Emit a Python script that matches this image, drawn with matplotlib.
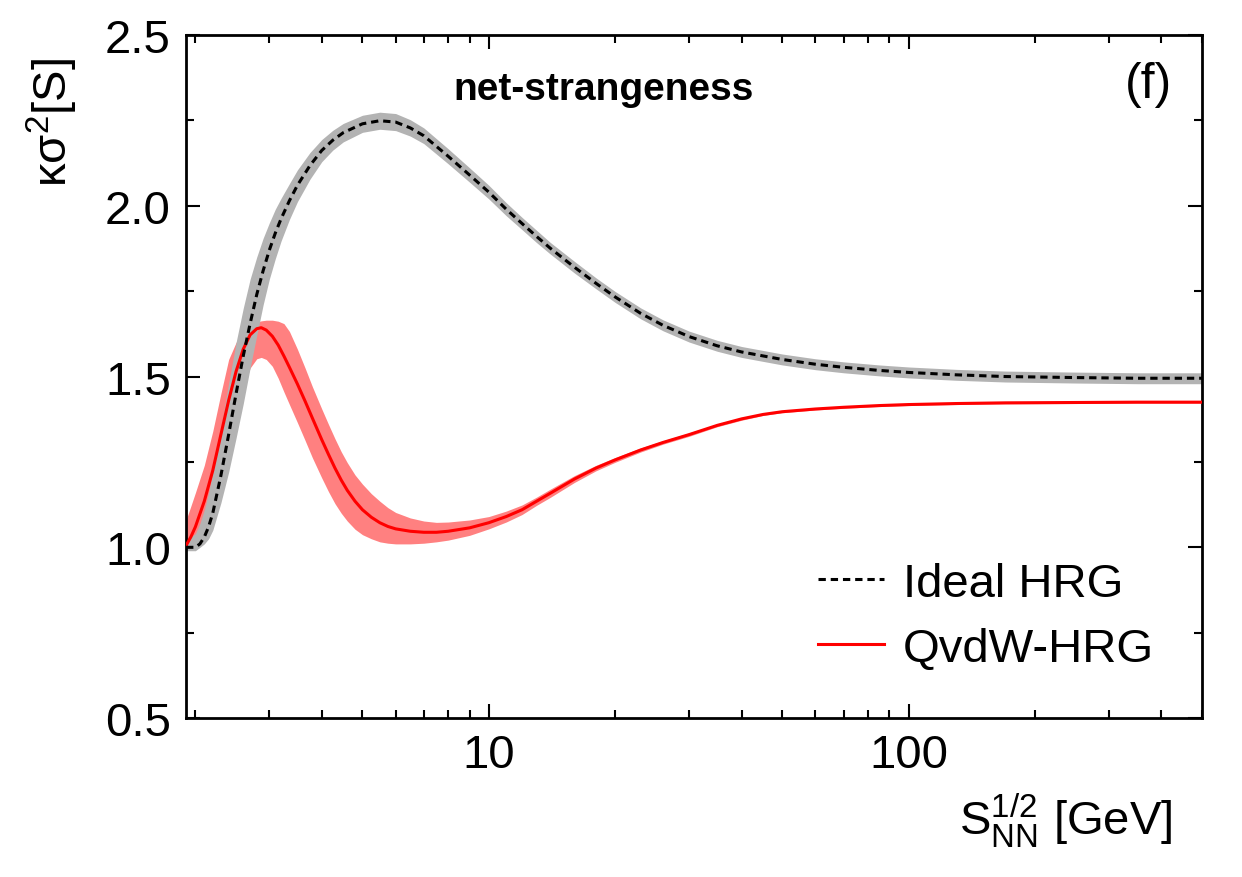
import matplotlib
matplotlib.use("Agg")
import matplotlib.pyplot as plt
import numpy as np
from matplotlib.ticker import MultipleLocator, LogLocator, FixedLocator, NullFormatter, FuncFormatter

plt.rcParams['font.family'] = ['Liberation Sans', 'DejaVu Sans']
plt.rcParams['mathtext.fontset'] = 'custom'
plt.rcParams['mathtext.rm'] = 'Liberation Sans'
plt.rcParams['mathtext.it'] = 'Liberation Sans'
plt.rcParams['mathtext.default'] = 'regular'

# ---------------- data ----------------
# Ideal HRG (black dashed) centre line
ideal_x = [1.9, 2.0, 2.05, 2.1, 2.15, 2.2, 2.3, 2.4, 2.5, 2.6, 2.7, 2.8, 2.9, 3.0, 3.1, 3.2,
           3.35, 3.5, 3.75, 4.0, 4.25, 4.5, 5.0, 5.5, 6.0, 6.5, 7.0, 8.0, 9.0, 10, 11, 12,
           13, 14, 16, 18, 20, 23, 26, 30, 35, 40, 50, 60, 70, 85, 100, 130, 170, 250,
           350, 500]
ideal_y = [1.0, 1.0, 1.01, 1.03, 1.06, 1.10, 1.21, 1.33, 1.45, 1.56, 1.655, 1.74, 1.81,
           1.87, 1.92, 1.962, 2.015, 2.06, 2.118, 2.162, 2.192, 2.214, 2.24, 2.249, 2.245,
           2.228, 2.205, 2.145, 2.09, 2.04, 1.99, 1.948, 1.91, 1.876, 1.82, 1.773, 1.733,
           1.685, 1.65, 1.617, 1.59, 1.572, 1.55, 1.536, 1.527, 1.518, 1.512, 1.505, 1.5,
           1.497, 1.495, 1.495]
# grey band: distance of upper / lower edge from the centre line
ideal_dhi = [0.02, 0.04, 0.06, 0.08, 0.10, 0.12, 0.14, 0.15, 0.15, 0.14, 0.13, 0.11, 0.095,
             0.08, 0.07, 0.06, 0.05, 0.045, 0.038, 0.032, 0.029, 0.027, 0.025, 0.025,
             0.025, 0.024, 0.023, 0.022, 0.021, 0.02, 0.019, 0.018, 0.018, 0.017, 0.017,
             0.016, 0.016, 0.016, 0.016, 0.016, 0.016, 0.016, 0.016, 0.016, 0.016, 0.016,
             0.016, 0.016, 0.016, 0.016, 0.016, 0.016]
ideal_dlo = [0.01, 0.01, 0.01, 0.02, 0.035, 0.05, 0.08, 0.11, 0.13, 0.14, 0.13, 0.12, 0.10,
             0.085, 0.075, 0.065, 0.055, 0.048, 0.04, 0.033, 0.029, 0.027, 0.025, 0.025,
             0.025, 0.024, 0.023, 0.022, 0.021, 0.02, 0.019, 0.018, 0.018, 0.017, 0.017,
             0.016, 0.016, 0.016, 0.016, 0.016, 0.016, 0.016, 0.016, 0.016, 0.016, 0.016,
             0.016, 0.016, 0.016, 0.016, 0.016, 0.016]

# QvdW-HRG (red) centre line
qvdw_x = [1.9, 1.95, 2.0, 2.1, 2.2, 2.3, 2.4, 2.5, 2.6, 2.7, 2.8, 2.87, 2.95, 3.05, 3.15,
          3.25, 3.35, 3.5, 3.65, 3.8, 4.0, 4.15, 4.3, 4.45, 4.6, 4.8, 5.0, 5.25, 5.5, 5.75,
          6.0, 6.5, 7.0, 7.5, 8.0, 9.0, 10, 11, 12, 13, 14, 16, 18, 20, 23, 26, 30, 35, 40,
          45, 50, 60, 70, 85, 100, 130, 170, 250, 350, 500]
qvdw_y = [1.005, 1.03, 1.06, 1.135, 1.225, 1.33, 1.43, 1.515, 1.58, 1.622, 1.64, 1.643,
          1.636, 1.618, 1.592, 1.56, 1.527, 1.478, 1.428, 1.378, 1.315, 1.272, 1.232, 1.197,
          1.167, 1.135, 1.11, 1.088, 1.072, 1.061, 1.054, 1.047, 1.044, 1.044, 1.047, 1.057,
          1.072, 1.09, 1.11, 1.135, 1.158, 1.2, 1.232, 1.256, 1.285, 1.307, 1.33, 1.357,
          1.376, 1.389, 1.397, 1.405, 1.41, 1.415, 1.418, 1.421, 1.423, 1.424, 1.425, 1.425]
# pink band edges
qvdw_hi = [1.08, 1.12, 1.16, 1.24, 1.34, 1.45, 1.55, 1.60, 1.63, 1.648, 1.66, 1.663, 1.665,
           1.665, 1.662, 1.655, 1.632, 1.58, 1.525, 1.47, 1.405, 1.36, 1.318, 1.28, 1.248,
           1.212, 1.185, 1.157, 1.135, 1.116, 1.102, 1.086, 1.077, 1.073, 1.074, 1.08, 1.09,
           1.106, 1.124, 1.147, 1.17, 1.21, 1.24, 1.263, 1.291, 1.312, 1.335, 1.361, 1.38,
           1.392, 1.4, 1.408, 1.413, 1.418, 1.421, 1.424, 1.426, 1.427, 1.428, 1.428]
qvdw_lo = [0.995, 0.997, 1.0, 1.025, 1.08, 1.17, 1.28, 1.39, 1.47, 1.525, 1.552, 1.556,
           1.55, 1.53, 1.495, 1.455, 1.418, 1.365, 1.313, 1.262, 1.203, 1.163, 1.128, 1.1,
           1.077, 1.053, 1.037, 1.025, 1.016, 1.012, 1.01, 1.01, 1.012, 1.016, 1.021, 1.035,
           1.054, 1.074, 1.096, 1.123, 1.146, 1.19, 1.224, 1.249, 1.279, 1.302, 1.325, 1.353,
           1.372, 1.386, 1.394, 1.402, 1.407, 1.412, 1.415, 1.418, 1.42, 1.421, 1.422, 1.422]

x_major = [10, 100]
x_major_labels = ['10', '100']
y_major = [0.5, 1.0, 1.5, 2.0, 2.5]

# ---------------- figure ----------------
fig = plt.figure(figsize=(12.42, 8.78), dpi=100)
ax = fig.add_axes([0.1498, 0.181, 0.8180, 0.778])

ideal_hi = np.array(ideal_y) + np.array(ideal_dhi)
ideal_lo = np.array(ideal_y) - np.array(ideal_dlo)

ax.fill_between(qvdw_x, qvdw_lo, qvdw_hi, color='#ff8080', lw=0, zorder=1)
ax.fill_between(ideal_x, ideal_lo, ideal_hi, color='#b3b3b3', lw=0, zorder=2)
red_line, = ax.plot(qvdw_x, qvdw_y, color='#ff0000', lw=2.2, zorder=3)
ideal_line, = ax.plot(ideal_x, ideal_y, color='black', lw=2.2, dashes=(2.4, 1.6), zorder=4)

ax.set_xscale('log')
ax.set_xlim(1.9, 500)
ax.set_ylim(0.5, 2.5)

ax.xaxis.set_major_locator(FixedLocator(x_major))
ax.xaxis.set_major_formatter(FuncFormatter(lambda v, p: x_major_labels[x_major.index(v)] if v in x_major else ''))
ax.xaxis.set_minor_locator(LogLocator(base=10, subs=range(2, 10), numticks=20))
ax.xaxis.set_minor_formatter(NullFormatter())
ax.yaxis.set_major_locator(FixedLocator(y_major))
ax.yaxis.set_minor_locator(MultipleLocator(0.25))
ax.yaxis.set_major_formatter(FuncFormatter(lambda v, p: f'{v:.1f}'))

ax.tick_params(which='both', direction='in', top=True, right=True, width=1.5,
               labelsize=34, pad=11, colors='black')
ax.tick_params(which='major', length=10)
ax.tick_params(which='minor', length=6)
for s in ax.spines.values():
    s.set_linewidth(2.0)

ax.set_ylabel('κσ$^{2}$[S]', fontsize=34)
ax.yaxis.set_label_coords(-0.104, 0.874)
ax.set_xlabel(r'S$_{NN}^{1/2}$ [GeV]', fontsize=34)
ax.xaxis.set_label_coords(0.866, -0.107)

ax.text(0.411, 0.921, 'net-strangeness', transform=ax.transAxes, fontsize=28,
        fontweight='bold', ha='center', va='center')
ax.text(0.947, 0.928, '(f)', transform=ax.transAxes, fontsize=36,
        ha='center', va='center')

ax.legend(handles=[ideal_line, red_line], labels=['Ideal HRG', 'QvdW-HRG'],
          loc='upper left', bbox_to_anchor=(0.622, 0.229), frameon=False,
          fontsize=34, handlelength=1.4, handletextpad=0.4, labelspacing=0.45,
          borderpad=0, borderaxespad=0)

fig.savefig('out.png', dpi=100)
